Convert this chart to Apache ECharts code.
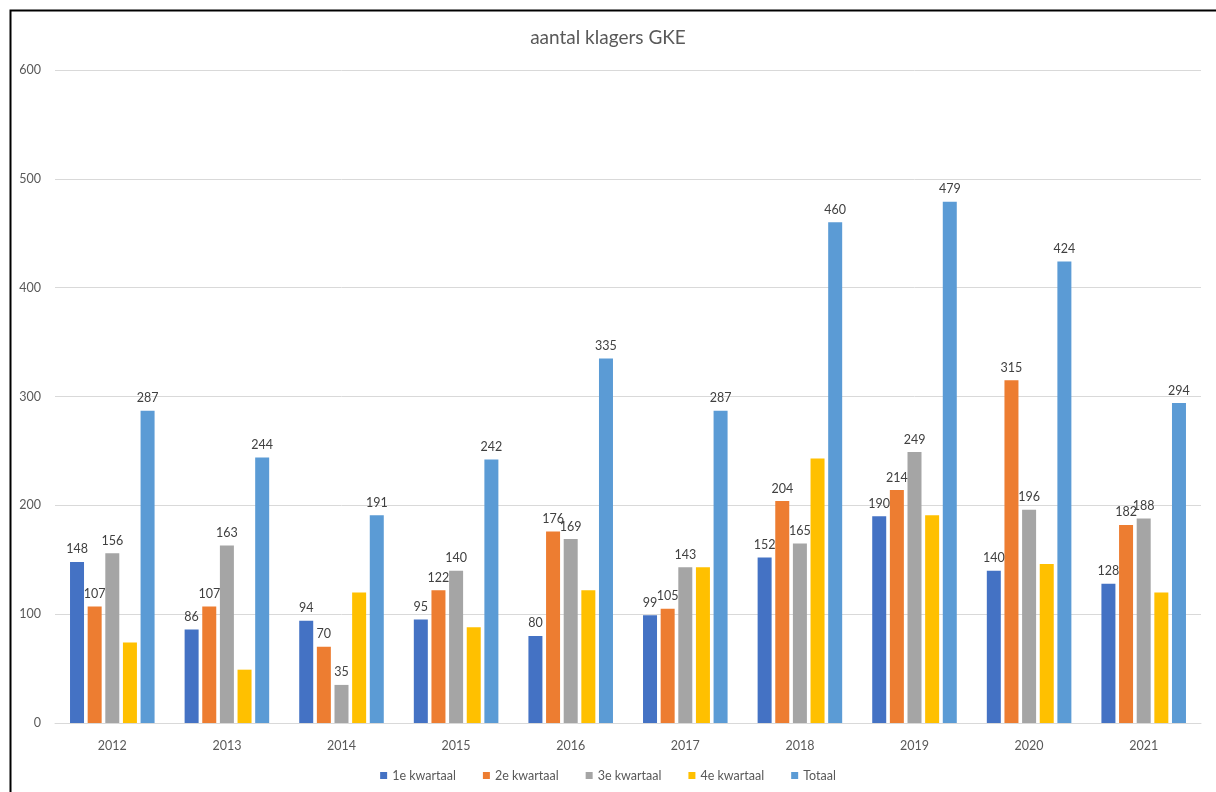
<!DOCTYPE html>
<html>
<head>
<meta charset="utf-8">
<script src="https://cdn.jsdelivr.net/npm/echarts@6/dist/echarts.min.js"></script>
<style>
html,body{margin:0;padding:0;background:#fff;}
#c{width:1216px;height:792px;}
</style>
</head>
<body>
<div id="c"></div>
<script>
var categories = ['2012','2013','2014','2015','2016','2017','2018','2019','2020','2021'];
var q1 = [148, 86, 94, 95, 80, 99, 152, 190, 140, 128];
var q2 = [107, 107, 70, 122, 176, 105, 204, 214, 315, 182];
var q3 = [156, 163, 35, 140, 169, 143, 165, 249, 196, 188];
var q4 = [74, 49, 120, 88, 122, 143, 243, 191, 146, 120];
var totaal = [287, 244, 191, 242, 335, 287, 460, 479, 424, 294];
var seriesNames = ['1e kwartaal','2e kwartaal','3e kwartaal','4e kwartaal','Totaal'];
var yTicks = [0, 100, 200, 300, 400, 500, 600];

var colors = ['#4472C4','#ED7D31','#A5A5A5','#FFC000','#5B9BD5'];
var font = 'Lato, "Open Sans", sans-serif';
var chart = echarts.init(document.getElementById('c'));

function mk(name, data, i, label) {
  return {
    name: name, type: 'bar', data: data,
    barWidth: 14, barGap: '26%',
    itemStyle: {color: colors[i]},
    label: {show: label, position: 'top', distance: 6, color: '#404040', fontSize: 12.5, fontFamily: font},
    emphasis: {disabled: true}
  };
}

chart.setOption({
  animation: false,
  color: colors,
  title: {
    text: 'aantal klagers GKE', left: 'center', top: 23,
    textStyle: {fontFamily: font, fontSize: 19, fontWeight: 'normal', color: '#595959'}
  },
  legend: {
    bottom: 5, left: 'center', itemWidth: 7, itemHeight: 7, itemGap: 27,
    icon: 'rect',
    textStyle: {fontFamily: font, fontSize: 12.5, color: '#595959'},
    data: seriesNames
  },
  grid: {left: 55, right: 15, top: 70, bottom: 69, containLabel: false},
  xAxis: {
    type: 'category', data: categories,
    axisLine: {lineStyle: {color: '#D9D9D9'}},
    axisTick: {show: false},
    axisLabel: {color: '#595959', fontFamily: font, fontSize: 12.5, margin: 16}
  },
  yAxis: {
    type: 'value', min: 0, max: 600, interval: 100,
    axisLine: {show: false}, axisTick: {show: false},
    splitLine: {lineStyle: {color: '#D9D9D9'}},
    axisLabel: {color: '#595959', fontFamily: font, fontSize: 12.5, margin: 14,
      formatter: function(v){ return yTicks.indexOf(v) >= 0 ? String(v) : ''; }}
  },
  graphic: [{
    type: 'rect', left: 8, top: 8, silent: true,
    shape: {width: 1230, height: 810},
    style: {fill: null, stroke: '#000', lineWidth: 2}
  }],
  series: [
    mk(seriesNames[0], q1, 0, true),
    mk(seriesNames[1], q2, 1, true),
    mk(seriesNames[2], q3, 2, true),
    mk(seriesNames[3], q4, 3, false),
    mk(seriesNames[4], totaal, 4, true)
  ]
});
</script>
</body>
</html>
